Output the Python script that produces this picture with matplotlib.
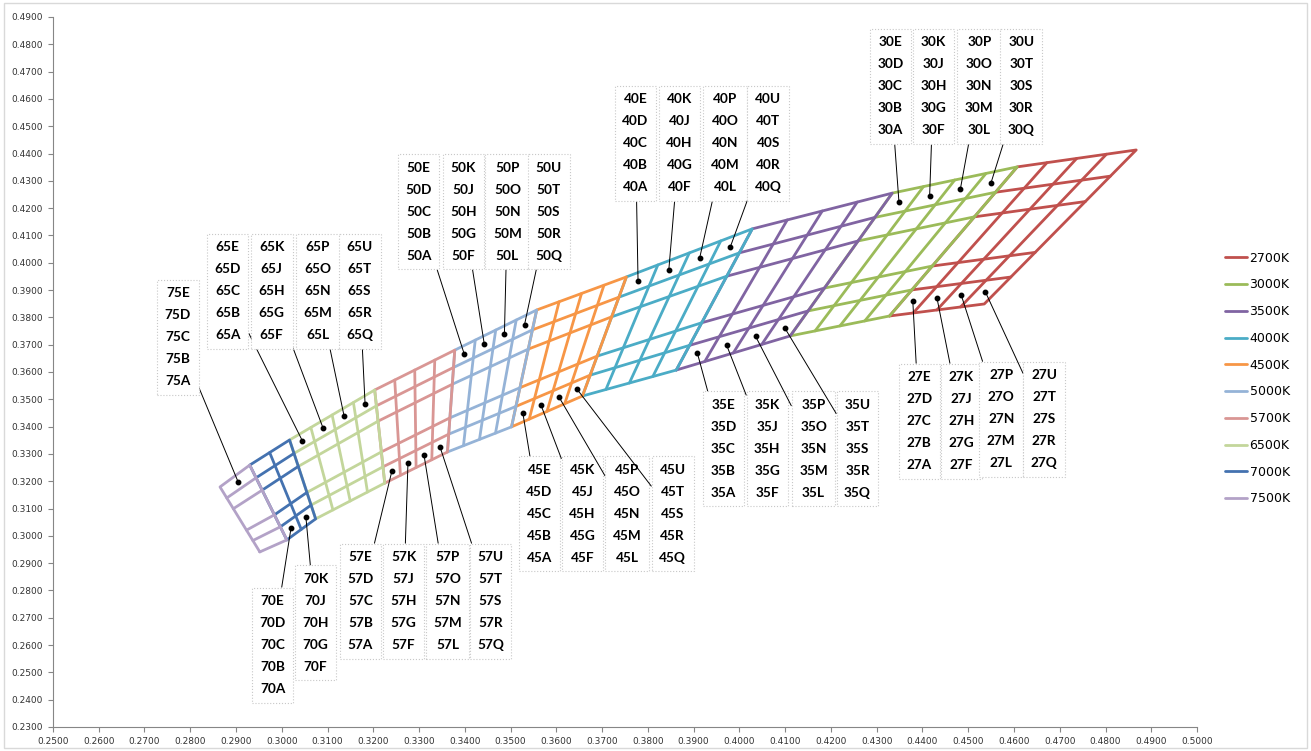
import matplotlib.pyplot as plt
import numpy as np
from matplotlib.patches import Rectangle
from matplotlib.ticker import FormatStrFormatter, MultipleLocator

cct_names = ["2700K", "3000K", "3500K", "4000K", "4500K",
             "5000K", "5700K", "6500K", "7000K", "7500K"]
cct_codes = ["27", "30", "35", "40", "45", "50", "57", "65", "70", "75"]
colors = ["#C0504D", "#9BBB59", "#8064A2", "#4BACC6", "#F79646",
          "#95B3D7", "#D99694", "#C3D69B", "#4472B0", "#B3A2C7"]

# quadrangle corners: bottom-left, bottom-right, top-right, top-left
corner_x = [
    [0.4328, 0.4535, 0.4867, 0.4607],
    [0.4111, 0.4328, 0.4607, 0.4334],
    [0.3862, 0.4111, 0.4334, 0.4028],
    [0.3657, 0.3862, 0.4028, 0.3753],
    [0.3502, 0.3657, 0.3753, 0.3557],
    [0.3362, 0.3502, 0.3557, 0.3378],
    [0.3225, 0.3362, 0.3378, 0.3203],
    [0.3074, 0.3225, 0.3203, 0.3017],
    [0.3011, 0.3074, 0.3017, 0.2930],
    [0.2952, 0.3011, 0.2930, 0.2865],
]
corner_y = [
    [0.3805, 0.3849, 0.4413, 0.4351],
    [0.3732, 0.3805, 0.4351, 0.4255],
    [0.3607, 0.3732, 0.4255, 0.4124],
    [0.3512, 0.3607, 0.4124, 0.3948],
    [0.3399, 0.3512, 0.3948, 0.3827],
    [0.3307, 0.3399, 0.3827, 0.3680],
    [0.3193, 0.3307, 0.3680, 0.3534],
    [0.3062, 0.3193, 0.3534, 0.3351],
    [0.2985, 0.3062, 0.3351, 0.3259],
    [0.2941, 0.2985, 0.3259, 0.3179],
]
n_cols = [4, 4, 4, 4, 4, 4, 4, 4, 2, 1]
# sub-bin boundaries across each quadrangle (A at bottom, E at top)
row_edges = [0.0, 0.175, 0.335, 0.665, 0.83, 1.0]
bin_letters = ["EDCBA", "KJHGF", "PONML", "UTSRQ"]
top_labeled = ["30", "40", "50", "65", "75"]

# label box centres
box_x = {
    "27": [0.4393, 0.4485, 0.4572, 0.4666],
    "30": [0.4330, 0.4424, 0.4524, 0.4616],
    "35": [0.3965, 0.4061, 0.4162, 0.4258],
    "40": [0.3773, 0.3869, 0.3969, 0.4063],
    "45": [0.3563, 0.3657, 0.3755, 0.3854],
    "50": [0.3299, 0.3397, 0.3493, 0.3583],
    "57": [0.3172, 0.3266, 0.3362, 0.3456],
    "65": [0.2882, 0.2978, 0.3079, 0.3170],
    "70": [0.2980, 0.3074],
    "75": [0.2773],
}
box_y = {
    "27": [0.3420, 0.3420, 0.3427, 0.3427],
    "30": [0.4647] * 4,
    "35": [0.3318] * 4,
    "40": [0.4438] * 4,
    "45": [0.3080] * 4,
    "50": [0.4186] * 4,
    "57": [0.2761] * 4,
    "65": [0.3896] * 4,
    "70": [0.2600, 0.2681],
    "75": [0.3728],
}


def quad_point(qx, qy, s, t):
    w = np.array([(1 - s) * (1 - t), s * (1 - t), s * t, (1 - s) * t])
    return float(w @ qx), float(w @ qy)


fig = plt.figure(figsize=(13.11, 7.51), dpi=100)
fig.patches.append(Rectangle((0.003, 0.004), 0.994, 0.992, transform=fig.transFigure,
                             fill=False, ec="#D9D9D9", lw=1.0))
ax = fig.add_axes([0.0404, 0.032, 0.8727, 0.9454])

for i, name in enumerate(cct_names):
    qx = np.array(corner_x[i])
    qy = np.array(corner_y[i])
    style = dict(color=colors[i], lw=2.0, zorder=2 + i,
                 solid_joinstyle="round", solid_capstyle="round")
    ax.plot(np.append(qx, qx[0]), np.append(qy, qy[0]), label=name, **style)
    for t in row_edges[1:-1]:
        p0 = quad_point(qx, qy, 0, t)
        p1 = quad_point(qx, qy, 1, t)
        ax.plot([p0[0], p1[0]], [p0[1], p1[1]], **style)
    for s in np.linspace(0, 1, n_cols[i] + 1)[1:-1]:
        p0 = quad_point(qx, qy, s, 0)
        p1 = quad_point(qx, qy, s, 1)
        ax.plot([p0[0], p1[0]], [p0[1], p1[1]], **style)

# bin labels with pointers
for i, code in enumerate(cct_codes):
    qx = np.array(corner_x[i])
    qy = np.array(corner_y[i])
    k = 4 if code in top_labeled else 0
    t = (row_edges[k] + row_edges[k + 1]) / 2
    for c in range(n_cols[i]):
        s = (c + 0.5) / n_cols[i]
        px, py = quad_point(qx, qy, s, t)
        text = "\n".join(code + ch for ch in bin_letters[c])
        ax.annotate(
            text, xy=(px, py), xytext=(box_x[code][c], box_y[code][c]),
            ha="center", va="center", fontsize=9.8, fontweight="bold",
            family=["Lato", "DejaVu Sans"], linespacing=2.0, zorder=15,
            bbox=dict(boxstyle="square,pad=0.55", fc="white", ec="#C8C8C8",
                      lw=0.8, ls=":"),
            arrowprops=dict(arrowstyle="-", color="black", lw=0.7,
                            shrinkA=0, shrinkB=0),
        )
        ax.plot(px, py, "o", color="black", ms=3.2, zorder=20)

ax.set_xlim(0.25, 0.50)
ax.set_ylim(0.23, 0.49)
ax.xaxis.set_major_locator(MultipleLocator(0.01))
ax.yaxis.set_major_locator(MultipleLocator(0.01))
ax.xaxis.set_major_formatter(FormatStrFormatter("%.4f"))
ax.yaxis.set_major_formatter(FormatStrFormatter("%.4f"))
ax.tick_params(labelsize=6.5, labelcolor="#333333", color="#868686",
               length=3.5, width=0.8, direction="out")
for side in ["top", "right"]:
    ax.spines[side].set_visible(False)
for side in ["left", "bottom"]:
    ax.spines[side].set_color("#868686")
    ax.spines[side].set_linewidth(0.8)

fig.legend(loc="center left", bbox_to_anchor=(0.9345, 0.496), frameon=False,
           fontsize=9, handlelength=1.75, handletextpad=0.2, labelspacing=1.1,
           borderpad=0, borderaxespad=0)

fig.savefig("out.png", dpi=100)
plt.close(fig)
